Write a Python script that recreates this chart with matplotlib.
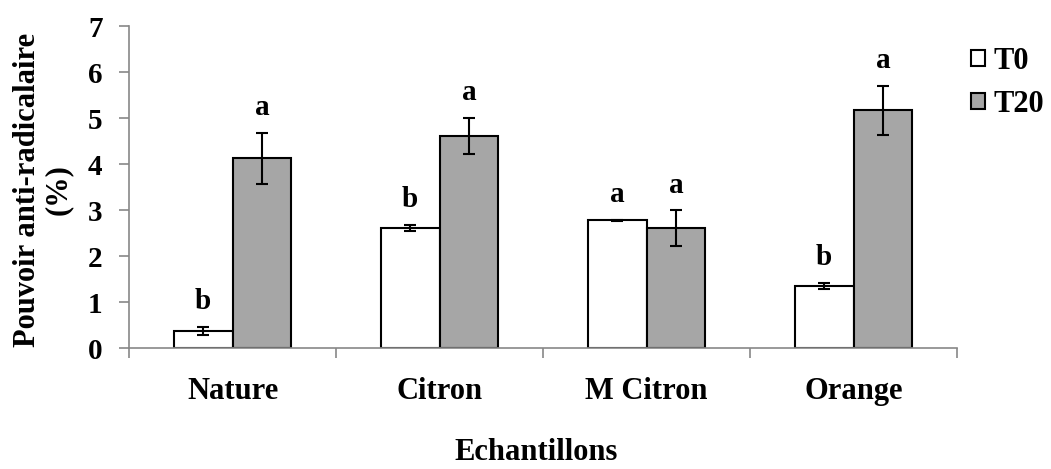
import matplotlib
matplotlib.use('Agg')
import matplotlib.pyplot as plt
import numpy as np

categories = ['Nature', 'Citron', 'M Citron', 'Orange']
t0_values = [0.37, 2.61, 2.78, 1.35]
t0_errors = [0.08, 0.06, 0.01, 0.07]
t20_values = [4.12, 4.61, 2.60, 5.17]
t20_errors = [0.55, 0.40, 0.39, 0.53]
t0_letters = ['b', 'b', 'a', 'b']
t20_letters = ['a', 'a', 'a', 'a']

plt.rcParams['font.family'] = ['Liberation Serif', 'DejaVu Serif']
plt.rcParams['font.weight'] = 'bold'

W, H = 1051, 469
fig = plt.figure(figsize=(W / 100, H / 100), dpi=100)
ax = fig.add_axes([129 / W, 1 - 348 / H, 828 / W, 322 / H])

x = np.arange(len(categories))
width = 0.285
axis_grey = '#878787'

ax.bar(x - width / 2, t0_values, width, color='white', edgecolor='black', linewidth=1.5,
       label='T0', zorder=2)
ax.bar(x + width / 2, t20_values, width, color='#a6a6a6', edgecolor='black', linewidth=1.5,
       label='T20', zorder=2)
ax.errorbar(x - width / 2, t0_values, yerr=t0_errors, fmt='none', ecolor='black',
            elinewidth=1.5, capsize=4.5, capthick=1.5, zorder=3)
ax.errorbar(x + width / 2, t20_values, yerr=t20_errors, fmt='none', ecolor='black',
            elinewidth=1.5, capsize=4.5, capthick=1.5, zorder=3)

# significance letters above the error bars
for i in range(len(categories)):
    ax.text(x[i] - width / 2, t0_values[i] + t0_errors[i] + 0.26, t0_letters[i],
            ha='center', va='bottom', fontsize=21, fontweight='bold')
    ax.text(x[i] + width / 2, t20_values[i] + t20_errors[i] + 0.26, t20_letters[i],
            ha='center', va='bottom', fontsize=21, fontweight='bold')

ax.set_xlim(-0.5, len(categories) - 0.5)
ax.set_ylim(0, 7)
ax.set_yticks(range(0, 8))
ax.set_xticks(x)
ax.set_xticklabels(categories)
ax.set_xticks(np.arange(-0.5, len(categories)), minor=True)
ax.tick_params(axis='x', which='major', length=0, pad=21, labelsize=22)
ax.tick_params(axis='x', which='minor', length=7, color=axis_grey, width=1.2)
ax.tick_params(axis='y', length=7, color=axis_grey, width=1.2, labelsize=21, pad=12)

for side in ['top', 'right']:
    ax.spines[side].set_visible(False)
for side in ['left', 'bottom']:
    ax.spines[side].set_color(axis_grey)
    ax.spines[side].set_linewidth(1.2)

fig.text(43 / W, 1 - 190 / H, 'Pouvoir anti-radicalaire\n(%)', rotation=90, ha='center',
         va='center', multialignment='center', fontsize=22, fontweight='bold', linespacing=1.1)
fig.text(536 / W, 1 - 460 / H, 'Echantillons', ha='center', va='baseline',
         fontsize=22, fontweight='bold')

fig.legend(loc='upper left', bbox_to_anchor=(971 / W, 1 - 47 / H), frameon=False, fontsize=22,
           handlelength=0.45, handleheight=0.45, handletextpad=0.3, labelspacing=0.45,
           borderpad=0, borderaxespad=0)

fig.savefig('out.png', dpi=100)
